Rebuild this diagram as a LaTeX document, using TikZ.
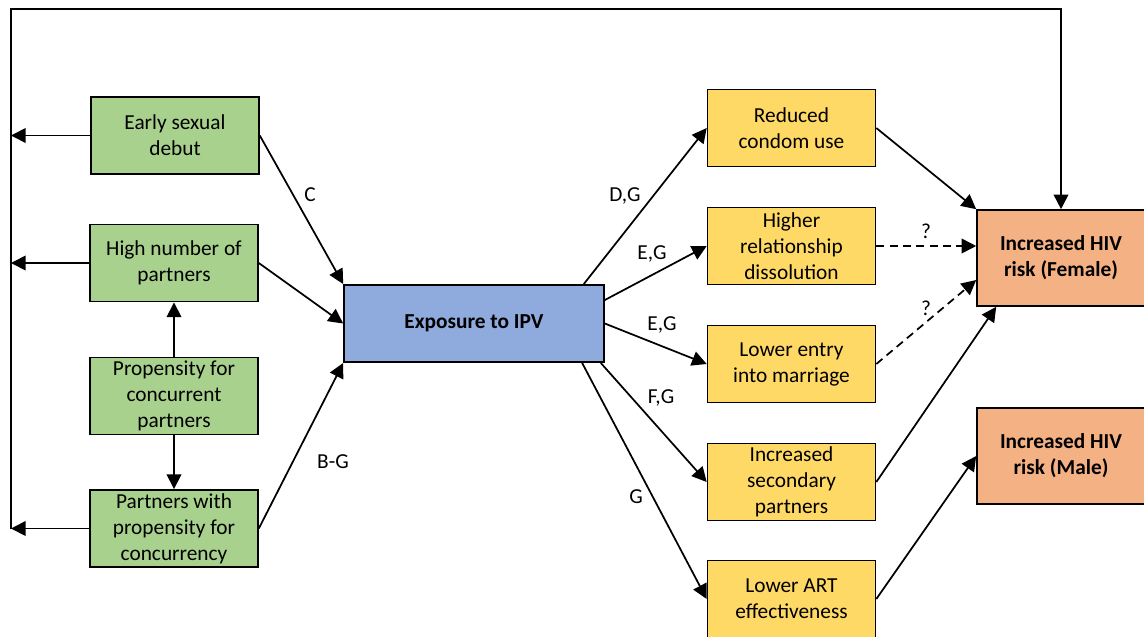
\documentclass[tikz,border=0pt]{standalone}
\usepackage{fontspec}
\setmainfont{Carlito}
\usetikzlibrary{arrows.meta}
\definecolor{boxgreen}{HTML}{A9D18E}
\definecolor{boxblue}{HTML}{8FAADC}
\definecolor{boxyellow}{HTML}{FFD966}
\definecolor{boxorange}{HTML}{F4B183}
\tikzset{
  box/.style={draw, line width=1.2pt, minimum width=126pt, minimum height=58pt, inner sep=1pt, align=center, font=\fontsize{16}{19.5}\selectfont},
  greenbox/.style={box, fill=boxgreen},
  yellowbox/.style={box, fill=boxyellow},
  riskbox/.style={box, fill=boxorange, minimum height=72pt, font=\fontsize{16}{19.5}\selectfont\bfseries},
  lnk/.style={line width=1.3pt, -{Triangle[length=11pt,width=11pt]}},
  dash line/.style={dash pattern=on 6pt off 4pt},
  lbl/.style={font=\fontsize{16}{18}\selectfont, inner sep=0pt},
}
\begin{document}
\begin{tikzpicture}[x=0.75pt, y=-0.75pt]
\useasboundingbox (0,0) rectangle (1144,636);
% left column
\node[greenbox] (early) at (175,135.5) {Early sexual\\debut};
\node[greenbox] (high) at (174,263) {High number of\\partners};
\node[greenbox] (prop) at (174,396) {Propensity for\\concurrent\\partners};
\node[greenbox] (ptnr) at (174,528.5) {Partners with\\propensity for\\concurrency};
\node[box, fill=boxblue, minimum width=195pt, font=\fontsize{16}{19.5}\selectfont\bfseries] (ipv) at (474,323.5) {Exposure to IPV};
% middle column
\node[yellowbox] (condom) at (791.5,128) {Reduced\\condom use};
\node[yellowbox] (dissol) at (791.5,246) {Higher\\relationship\\dissolution};
\node[yellowbox] (marr) at (791.5,364) {Lower entry\\into marriage};
\node[yellowbox] (second) at (791.5,482) {Increased\\secondary\\partners};
\node[yellowbox] (art) at (791.5,599) {Lower ART\\effectiveness};
% outcomes
\node[riskbox] (female) at (1061,258) {Increased HIV\\risk (Female)};
\node[riskbox] (male) at (1061,456) {Increased HIV\\risk (Male)};
\coordinate (tl) at (11,9);

% feedback loop
\draw[lnk] (early.west) -- (early.west -| tl);
\draw[lnk] (high.west) -- (high.west -| tl);
\draw[lnk] (ptnr.west) -- (ptnr.west -| tl);
\draw[lnk] (ptnr.west -| tl) -- (tl) -- (tl -| female.north) -- (female.north);

\draw[lnk] (prop) -- (high); \draw[lnk] (prop) -- (ptnr);
\draw[lnk] (early.east) -- (ipv.north west);
\draw[lnk] (high.east) -- (ipv.west);
\draw[lnk] (ptnr.east) -- (ipv.south west);
\node[lbl] (lc) at (310,195) {C};
\node[lbl] (lbg) at (333,462) {B-G};

\draw[lnk] ([xshift=-15.75pt]ipv.north east) -- (condom.west);
\draw[lnk] ([yshift=17.6pt]ipv.east) -- (dissol.west);
\draw[lnk] (ipv.east) -- (marr.west);
\draw[lnk] ([xshift=-3pt]ipv.south east) -- (second.west);
\draw[lnk] ([xshift=-17pt]ipv.south east) -- (art.west);
\node[lbl] (ldg) at (625,196) {D,G};
\node[lbl] (leg1) at (652,254) {E,G};
\node[lbl] (leg2) at (662,325) {E,G};
\node[lbl] (lfg) at (661,398) {F,G};
\node[lbl] (lg) at (636,497) {G};

\draw[lnk] (condom.east) -- (female.north west);
\draw[lnk, dash line] (dissol.east) -- ([yshift=9pt]female.west);
\draw[lnk, dash line] (marr.east) -- ([yshift=-16.5pt]female.west);
\draw[lnk] (second.east) -- ([xshift=15pt]female.south west);
\draw[lnk] (art.east) -- (male.west);
\node[lbl] (lq1) at (926,231) {?};
\node[lbl] (lq2) at (926,308) {?};
\end{tikzpicture}
\end{document}
